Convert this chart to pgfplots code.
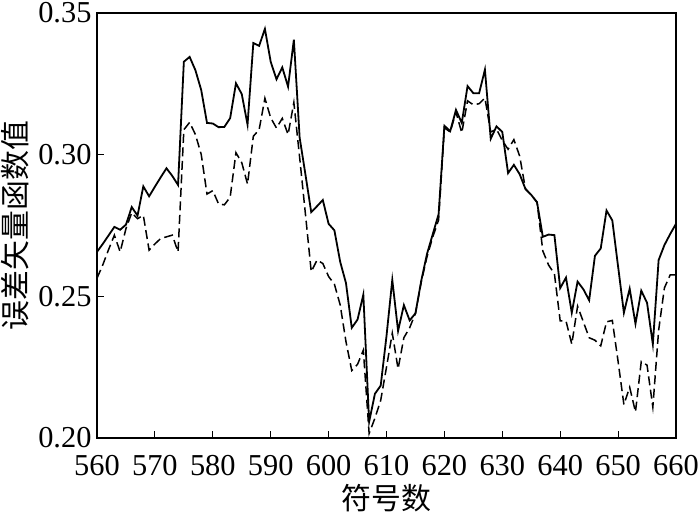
\documentclass[border=0pt]{standalone}
\usepackage{fontspec}
\setmainfont{Liberation Serif}
\newfontfamily\cjk{Noto Sans CJK SC}
\usepackage{pgfplots}
\usepackage{pgfplotstable}
\pgfplotsset{compat=1.18}
\usetikzlibrary{calc}

% x, solid curve, dashed curve
\pgfplotstableread{
x   s       d
560 0.2657 0.2564
561 0.2685 0.2611
562 0.2715 0.2665
563 0.2745 0.2716
564 0.2735 0.2657
565 0.2753 0.2739
566 0.2815 0.2795
567 0.2785 0.2774
568 0.2888 0.2786
569 0.2853 0.2663
570 0.2887 0.2685
571 0.2920 0.2704
572 0.2952 0.2710
573 0.2925 0.2716
574 0.2893 0.2657
575 0.3328 0.3088
576 0.3345 0.3114
577 0.3298 0.3071
578 0.3228 0.3001
579 0.3112 0.2861
580 0.3110 0.2873
581 0.3097 0.2826
582 0.3098 0.2823
583 0.3129 0.2850
584 0.3252 0.3007
585 0.3214 0.2972
586 0.3106 0.2896
587 0.3394 0.3065
588 0.3384 0.3088
589 0.3444 0.3199
590 0.3328 0.3130
591 0.3266 0.3094
592 0.3308 0.3128
593 0.3240 0.3071
594 0.3406 0.3184
595 0.3060 0.2990
596 0.2930 0.2790
597 0.2797 0.2587
598 0.2818 0.2628
599 0.2840 0.2616
600 0.2756 0.2570
601 0.2733 0.2543
602 0.2622 0.2470
603 0.2547 0.2340
604 0.2389 0.2238
605 0.2418 0.2260
606 0.2506 0.2310
607 0.2057 0.2016
608 0.2156 0.2070
609 0.2185 0.2133
610 0.2360 0.2250
611 0.2558 0.2370
612 0.2378 0.2244
613 0.2469 0.2354
614 0.2415 0.2389
615 0.2440 0.2440
616 0.2555 0.2550
617 0.2650 0.2640
618 0.2720 0.2710
619 0.2790 0.2770
620 0.3102 0.3095
621 0.3083 0.3080
622 0.3158 0.3150
623 0.3112 0.3077
624 0.3242 0.3190
625 0.3217 0.3176
626 0.3217 0.3180
627 0.3300 0.3200
628 0.3056 0.3080
629 0.3100 0.3090
630 0.3080 0.3050
631 0.2935 0.3019
632 0.2964 0.3053
633 0.2931 0.2995
634 0.2879 0.2879
635 0.2858 0.2858
636 0.2832 0.2832
637 0.2710 0.2660
638 0.2718 0.2610
639 0.2716 0.2580
640 0.2529 0.2413
641 0.2566 0.2413
642 0.2442 0.2331
643 0.2552 0.2465
644 0.2525 0.2410
645 0.2486 0.2354
646 0.2643 0.2345
647 0.2669 0.2325
648 0.2803 0.2410
649 0.2768 0.2415
650 0.2605 0.2270
651 0.2442 0.2118
652 0.2527 0.2179
653 0.2403 0.2092
654 0.2520 0.2270
655 0.2477 0.2257
656 0.2331 0.2109
657 0.2628 0.2380
658 0.2681 0.2530
659 0.2720 0.2576
660 0.2756 0.2576
}\data

\begin{document}
\begin{tikzpicture}
\begin{axis}[
    scale only axis,
    width=579bp, height=425bp,
    xmin=560, xmax=660,
    ymin=0.20, ymax=0.35,
    xtick={560,570,...,660},
    ytick={0.20,0.25,0.30,0.35},
    xtick pos=left, ytick pos=left,
    tick align=inside,
    major tick length=7bp,
    axis line style={line width=1.4bp},
    every tick/.style={black, line width=1.2bp},
    /pgf/number format/assume math mode=true,
    yticklabel style={/pgf/number format/fixed, /pgf/number format/fixed zerofill,
        /pgf/number format/precision=2, xshift=-2bp},
    xticklabel style={/pgf/number format/set thousands separator={}, yshift=-14bp},
    every tick label/.append style={font=\fontsize{30.5}{36}\selectfont},
    xlabel={符号数},
    ylabel={误差矢量函数值},
    every axis label/.append style={font=\fontsize{30}{36}\selectfont\cjk},
    xlabel style={at={(rel axis cs:0.5,0)}, anchor=center, yshift=-60bp},
    ylabel style={at={(rel axis cs:0,0.5)}, anchor=center, yshift=82bp},
    clip=false,
]
\addplot[black, line width=1.8bp] table[x=x, y=s] {\data};
\addplot[black, line width=1.5bp, dash pattern=on 9bp off 4.5bp] table[x=x, y=d] {\data};
\coordinate (bl) at (rel axis cs:0,0);
\coordinate (tr) at (rel axis cs:1,1);
\end{axis}
\pgfresetboundingbox
\path ($(bl)+(-97bp,-77bp)$) rectangle ($(tr)+(24bp,13bp)$);
\end{tikzpicture}
\end{document}
